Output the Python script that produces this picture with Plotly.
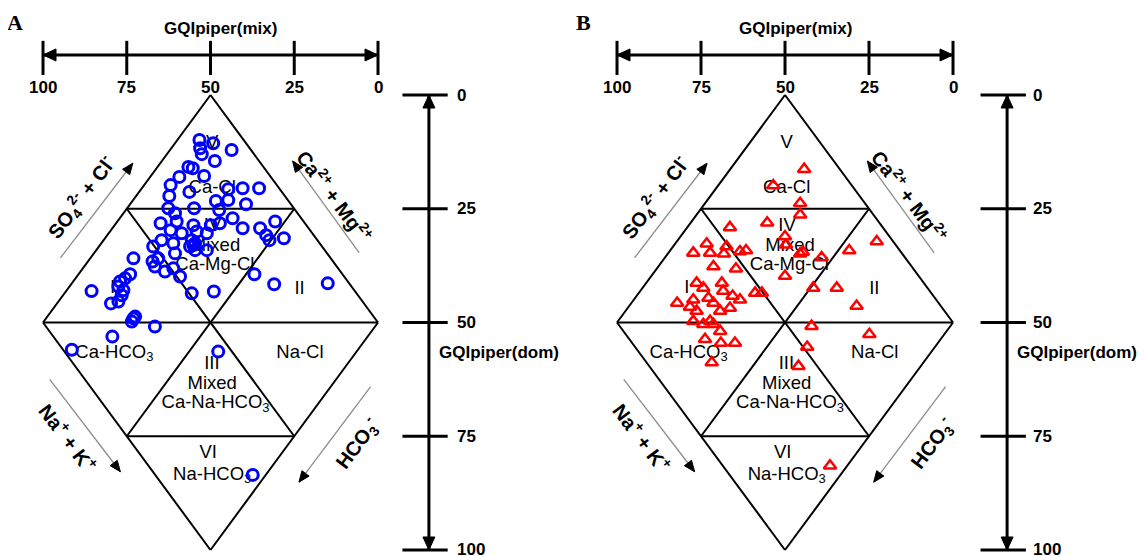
import plotly.graph_objects as go

# ---------------- data (GQIpiper(mix), GQIpiper(dom)) ----------------
a_mix = [53.3, 49.2, 53.1, 52.6, 43.7, 48.7, 56.6, 55.3, 59.3, 51.9,
         61.9, 56.3, 62.3, 44.7, 40.4, 35.5, 48.4, 44.7, 39.4, 62.6,
         54.9, 47.4, 60.6, 43.4, 64.9, 60.1, 55.1, 49.9, 47.2, 61.9,
         58.6, 54.1, 51.1, 40.4, 35.2, 30.7, 33.4, 32.4, 28.1, 64.6,
         61.1, 55.6, 55.1, 54.6, 67.1, 60.6, 51.1, 67.3, 65.6, 63.6,
         66.6, 61.1, 59.1, 36.9, 31.0, 55.6, 49.0, 73.0, 85.5, 74.0,
         75.5, 77.0, 77.5, 76.0, 76.5, 77.5, 79.7, 72.5, 73.5, 66.6,
         79.3, 91.4, 47.7, 15.0, 37.4, 73.0, 54.6, 56.1]
a_dom = [9.9, 10.6, 11.7, 13.0, 12.1, 14.5, 15.8, 16.1, 18.0, 17.8,
         19.8, 21.3, 22.2, 20.7, 20.5, 20.5, 23.3, 23.1, 24.0, 24.9,
         24.9, 25.3, 26.0, 27.1, 28.2, 27.8, 28.6, 28.6, 28.2, 29.7,
         30.4, 30.0, 30.4, 29.3, 29.3, 27.8, 30.8, 31.9, 31.5, 31.9,
         32.6, 31.9, 33.0, 34.1, 33.3, 34.8, 34.1, 36.6, 35.9, 38.8,
         37.7, 38.1, 39.9, 39.4, 41.6, 43.6, 43.2, 35.9, 43.1, 39.4,
         40.3, 41.0, 42.1, 42.9, 44.0, 45.4, 45.8, 48.7, 49.8, 50.9,
         53.1, 56.0, 56.4, 41.4, 83.5, 49.1, 32.6, 33.3]

b_mix = [53.5, 45.5, 45.5, 55.3, 66.4, 50.0, 49.7, 73.3, 77.3, 72.3,
         67.4, 68.2, 63.4, 61.6, 45.5, 44.7, 39.1, 71.3, 64.6, 50.0,
         41.6, 34.6, 76.3, 74.3, 68.8, 68.4, 82.1, 77.3, 78.3, 72.8,
         71.3, 65.6, 63.4, 58.9, 56.9, 76.3, 69.3, 66.4, 77.3, 74.3,
         72.3, 71.3, 69.3, 73.8, 69.1, 64.9, 71.8, 42.1, 43.4, 46.0,
         44.3, 22.7, 30.9, 28.7, 24.9, 36.6]
b_dom = [19.9, 23.8, 26.3, 28.1, 29.1, 31.1, 32.9, 32.7, 34.7, 34.7,
         33.3, 34.9, 34.4, 34.2, 34.9, 34.5, 35.7, 37.7, 38.2, 39.8,
         42.4, 42.4, 41.3, 42.4, 41.3, 43.1, 45.7, 45.0, 46.6, 44.6,
         45.7, 44.2, 45.0, 43.5, 43.5, 47.5, 47.5, 46.8, 49.7, 50.4,
         49.7, 50.4, 51.9, 53.7, 54.5, 54.5, 58.8, 50.8, 55.4, 59.6,
         16.3, 32.2, 34.2, 46.4, 52.6, 81.5]

mix_ticks = [100, 75, 50, 25, 0]
dom_ticks = [0, 25, 50, 75, 100]

region_text = ["V", "Ca-Cl", "IV", "Mixed", "Ca-Mg-Cl", "I", "II",
               "Ca-HCO<sub>3</sub>", "Na-Cl", "III", "Mixed",
               "Ca-Na-HCO<sub>3</sub>", "VI", "Na-HCO<sub>3</sub>"]
region_mix = [49.5, 49.5, 49.4, 48.5, 48.7, 79.2, 23.4, 78.7, 23.3, 49.6, 49.5, 48.5, 50.7, 49.5]
region_dom = [10.7, 20.6, 28.9, 33.3, 37.5, 42.6, 42.7, 56.7, 56.7, 59.1, 63.5, 67.7, 78.7, 83.5]

FONT = "Liberation Sans, Arial, sans-serif"
# page body adds an 8px margin, so the figure is 8px smaller than the window
W, H = 1138, 548
SY = 4.55  # px per dom unit

fig = go.Figure()

panels = [
    dict(letter="A", xref="x", mix=a_mix, dom=a_dom, symbol="circle-open",
         color="#0000FF", size=11, lw=3, sx=3.35, right=-15.2, lab_x=-22.9, ttl_x=-17.6, px=7),
    dict(letter="B", xref="x2", mix=b_mix, dom=b_dom, symbol="triangle-up-open",
         color="#FF0000", size=11, lw=2.5, sx=3.36, right=-16.1, lab_x=-23.2, ttl_x=-18.4, px=575),
]

frame_segments = [((50, 0), (100, 50)), ((100, 50), (50, 100)), ((50, 100), (0, 50)),
                  ((0, 50), (50, 0)), ((75, 25), (25, 25)), ((100, 50), (0, 50)),
                  ((75, 75), (25, 75)), ((75, 25), (25, 75)), ((25, 25), (75, 75))]

direction_arrows = [((94.8, 35.8), (73.2, 15.0)), ((5.6, 34.7), (25.5, 14.5)),
                    ((98.0, 62.5), (76.9, 82.8)), ((2.2, 64.1), (23.6, 85.1))]
direction_labels = [("SO<sub>4</sub><sup>2-</sup> + Cl<sup>-</sup>", 88.5, 22.5, -53),
                    ("Ca<sup>2+</sup> + Mg<sup>2+</sup>", 12.8, 22.0, 53),
                    ("Na<sup>+</sup> + K<sup>+</sup>", 92.3, 75.2, 53),
                    ("HCO<sub>3</sub><sup>-</sup>", 6.2, 76.6, -53)]


def head_path(tip, tail, L, Wd, sx, sy):
    """Filled triangular arrow head (pixel-sized) in data coordinates."""
    dxp = -(tail[0] - tip[0]) * sx
    dyp = (tail[1] - tip[1]) * sy
    n = (dxp ** 2 + dyp ** 2) ** 0.5
    ux, uy = dxp / n, dyp / n
    bx, by = ux * L, uy * L
    qx, qy = -uy * Wd / 2, ux * Wd / 2
    pts = [(0, 0), (bx + qx, by + qy), (bx - qx, by - qy)]
    c = [(tip[0] - X / sx, tip[1] + Y / sy) for X, Y in pts]
    return "M {:.4f} {:.4f} L {:.4f} {:.4f} L {:.4f} {:.4f} Z".format(
        c[0][0], c[0][1], c[1][0], c[1][1], c[2][0], c[2][1])


TOP_Y = -8.8
for p in panels:
    xr = p["xref"]
    sx = p["sx"]
    # region labels (below markers)
    fig.add_trace(go.Scatter(x=region_mix, y=region_dom, mode="text", text=region_text,
                             textfont=dict(family=FONT, size=18.5, color="black"),
                             xaxis=xr, yaxis="y", hoverinfo="skip", showlegend=False))
    fig.add_trace(go.Scatter(x=p["mix"], y=p["dom"], mode="markers",
                             marker=dict(symbol=p["symbol"], size=p["size"], color=p["color"],
                                         line=dict(width=p["lw"], color=p["color"])),
                             xaxis=xr, yaxis="y", showlegend=False))
    # diamond frame
    for (x0, y0), (x1, y1) in frame_segments:
        fig.add_shape(type="line", x0=x0, y0=y0, x1=x1, y1=y1, xref=xr, yref="y",
                      line=dict(color="black", width=2), layer="below")
    # top axis
    fig.add_shape(type="line", x0=100, x1=0, y0=TOP_Y, y1=TOP_Y, xref=xr, yref="y",
                  line=dict(color="black", width=3), layer="below")
    for tip, tail in (((100, TOP_Y), (50, TOP_Y)), ((0, TOP_Y), (50, TOP_Y))):
        fig.add_shape(type="path", path=head_path(tip, tail, 13, 12, sx, SY), xref=xr, yref="y",
                      fillcolor="black", line=dict(color="black", width=1), layer="below")
    for v in mix_ticks:
        fig.add_shape(type="line", x0=v, x1=v, y0=-11.9, y1=-4.4, xref=xr, yref="y",
                      line=dict(color="black", width=3), layer="below")
        fig.add_annotation(x=v, y=-1.6, xref=xr, yref="y", text=f"<b>{v}</b>", showarrow=False,
                           font=dict(family=FONT, size=17, color="black"))
    fig.add_annotation(x=47, y=-14.7, xref=xr, yref="y", text="<b>GQIpiper(mix)</b>", showarrow=False,
                       font=dict(family=FONT, size=17, color="black"))
    # right axis
    xa = p["right"]
    fig.add_shape(type="line", x0=xa, x1=xa, y0=0, y1=100, xref=xr, yref="y",
                  line=dict(color="black", width=3), layer="below")
    for tip, tail in (((xa, 0), (xa, 50)), ((xa, 100), (xa, 50))):
        fig.add_shape(type="path", path=head_path(tip, tail, 13, 12, sx, SY), xref=xr, yref="y",
                      fillcolor="black", line=dict(color="black", width=1), layer="below")
    for v in dom_ticks:
        fig.add_shape(type="line", x0=xa + 7.9, x1=xa - 5.6, y0=v, y1=v, xref=xr, yref="y",
                      line=dict(color="black", width=3), layer="below")
        fig.add_annotation(x=p["lab_x"], y=v, xref=xr, yref="y", text=f"<b>{v}</b>", showarrow=False,
                           xanchor="left", font=dict(family=FONT, size=17, color="black"))
    fig.add_annotation(x=p["ttl_x"], y=56.7, xref=xr, yref="y", text="<b>GQIpiper(dom)</b>",
                       showarrow=False, xanchor="left", font=dict(family=FONT, size=17, color="black"))
    # direction arrows (grey shaft, black head)
    for (s, e) in direction_arrows:
        fig.add_shape(type="line", x0=s[0], y0=s[1], x1=e[0], y1=e[1], xref=xr, yref="y",
                      line=dict(color="#8c8c8c", width=1.3), layer="below")
        fig.add_shape(type="path", path=head_path(e, s, 11, 9, sx, SY), xref=xr, yref="y",
                      fillcolor="black", line=dict(color="black", width=1), layer="below")
    for txt, x, y, ang in direction_labels:
        fig.add_annotation(x=x, y=y, xref=xr, yref="y", text=f"<b>{txt}</b>", textangle=ang,
                           showarrow=False, font=dict(family=FONT, size=20, color="black"))
    # panel letter
    fig.add_annotation(x=p["px"] / W, y=1 - 15 / H, xref="paper", yref="paper",
                       xanchor="center", yanchor="middle",
                       text=f"<b>{p['letter']}</b>", showarrow=False,
                       font=dict(family="Liberation Serif, Times New Roman, serif", size=22, color="black"))

split = 565 / W
fig.update_layout(
    width=W, height=H, margin=dict(l=0, r=0, t=0, b=0),
    paper_bgcolor="white", plot_bgcolor="white", showlegend=False,
    xaxis=dict(domain=[0, split], range=[110.45, -58.21], visible=False, anchor="y"),
    xaxis2=dict(domain=[split, 1], range=[113.1, -57.44], visible=False, anchor="y"),
    yaxis=dict(domain=[0, 1], range=[101.32, -19.12], visible=False),
)

fig.write_html("out.html")
